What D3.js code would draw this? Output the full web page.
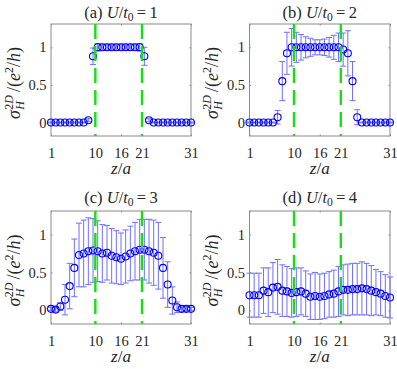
<!DOCTYPE html>
<html>
<head>
<meta charset="utf-8">
<script src="https://cdn.jsdelivr.net/npm/d3@7"></script>
<style>
body { margin: 0; background: #fff; }
text { font-family: "Liberation Serif", "Times New Roman", serif; fill: #262626; }
</style>
</head>
<body>
<div id="chart"></div>
<script>
// layer index along z
var layers = [1,2,3,4,5,6,7,8,9,10,11,12,13,14,15,16,17,18,19,20,21,22,23,24,25,26,27,28,29,30,31];

// (a) U/t0 = 1
var sigmaA = [0,0,0,0,0,0,0,0,0.03,0.88,1,1,1,1,1,1,1,1,1,1,0.88,0.03,0,0,0,0,0,0,0,0,0];
var errA   = [0.005,0.005,0.005,0.005,0.005,0.005,0.005,0.005,0.02,0.11,0.05,0.04,0.04,0.04,0.04,0.04,0.04,0.04,0.04,0.05,0.12,0.02,0.005,0.005,0.005,0.005,0.005,0.005,0.005,0.005,0.005];

// (b) U/t0 = 2
var sigmaB = [0,0,0,0,0,0,0.07,0.55,0.92,1.0,1.0,1.0,1.0,1.0,1.0,1.0,1.0,1.0,1.0,1.0,0.97,0.92,0.55,0.07,0,0,0,0,0,0,0];
var errB   = [0.005,0.005,0.005,0.005,0.005,0.005,0.09,0.26,0.28,0.25,0.2,0.17,0.14,0.12,0.1,0.1,0.11,0.13,0.16,0.19,0.22,0.3,0.26,0.1,0.005,0.005,0.005,0.005,0.005,0.005,0.005];

// (c) U/t0 = 3
var sigmaC = [0.02,0.01,0.05,0.14,0.32,0.56,0.73,0.75,0.78,0.79,0.78,0.75,0.76,0.72,0.70,0.68,0.71,0.75,0.78,0.80,0.80,0.78,0.76,0.72,0.56,0.34,0.13,0.04,0.02,0.02,0.02];
var errC   = [0.02,0.03,0.05,0.2,0.3,0.38,0.42,0.44,0.44,0.42,0.4,0.38,0.36,0.36,0.35,0.34,0.35,0.36,0.38,0.4,0.4,0.42,0.43,0.44,0.4,0.3,0.18,0.07,0.04,0.03,0.02];

// (d) U/t0 = 4
var sigmaD = [0.20,0.20,0.20,0.26,0.24,0.30,0.31,0.26,0.25,0.23,0.24,0.25,0.22,0.18,0.19,0.18,0.19,0.21,0.22,0.25,0.27,0.27,0.28,0.28,0.29,0.28,0.26,0.24,0.22,0.19,0.17];
var errD   = [0.29,0.29,0.29,0.3,0.32,0.33,0.36,0.34,0.33,0.32,0.32,0.31,0.3,0.3,0.31,0.3,0.3,0.3,0.31,0.33,0.33,0.34,0.34,0.34,0.35,0.34,0.33,0.3,0.29,0.28,0.27];

var xTickVals = [1, 10.5, 16, 20.5, 31];
var xTickText = ["1", "10", "16", "21", "31"];
var yTickVals = [0, 0.5, 1];
var yTickText = ["0", "0.5", "1"];
var boundaries = [10.5, 20.5];
var panelLetters = ["a", "b", "c", "d"];
var uValues = [1, 2, 3, 4];

var seriesVals = [sigmaA, sigmaB, sigmaC, sigmaD];
var seriesErrs = [errA, errB, errC, errD];

// layout of the four axes boxes
var frames = [
    { left: 51,    right: 191, top: 24,  bottom: 136, titleY: 18 },
    { left: 249.5, right: 390, top: 24,  bottom: 136, titleY: 18 },
    { left: 51,    right: 191, top: 211, bottom: 324, titleY: 203 },
    { left: 249.5, right: 390, top: 211, bottom: 324, titleY: 203 }
];

var svg = d3.select("#chart").append("svg")
    .attr("width", 397)
    .attr("height", 369);

function textW(str, size, style) {
    var t = svg.append("text").attr("font-size", size).style("font-style", style).text(str);
    var w = t.node().getComputedTextLength();
    t.remove();
    return w;
}

var boxColor = "#8a8a8a";
var markerColor = "#0000ff";
var barColor = "#6f6fff";
var green = "#14e014";

frames.forEach(function (f, p) {
    var vals = seriesVals[p], errs = seriesErrs[p];
    var x = d3.scaleLinear().domain([1, 31]).range([f.left, f.right]);
    var y = d3.scaleLinear().domain([-0.18, 1.31]).range([f.bottom, f.top]);
    var g = svg.append("g");

    // axes with inward ticks
    var bottomAxis = g.append("g")
        .attr("transform", "translate(0," + f.bottom + ")")
        .call(d3.axisBottom(x).tickValues(xTickVals)
            .tickFormat(function (d, i) { return xTickText[i]; })
            .tickSizeInner(-1.5).tickSizeOuter(0).tickPadding(11.5));
    g.append("g")
        .attr("transform", "translate(0," + f.top + ")")
        .call(d3.axisTop(x).tickValues(xTickVals).tickFormat("")
            .tickSizeInner(-1.5).tickSizeOuter(0));
    var leftAxis = g.append("g")
        .attr("transform", "translate(" + f.left + ",0)")
        .call(d3.axisLeft(y).tickValues(yTickVals)
            .tickFormat(function (d, i) { return yTickText[i]; })
            .tickSizeInner(-1.5).tickSizeOuter(0).tickPadding(4.5));
    g.append("g")
        .attr("transform", "translate(" + f.right + ",0)")
        .call(d3.axisRight(y).tickValues(yTickVals).tickFormat("")
            .tickSizeInner(-1.5).tickSizeOuter(0));

    g.selectAll(".domain").remove();
    g.selectAll(".tick line").attr("stroke", boxColor);
    [bottomAxis, leftAxis].forEach(function (a) {
        a.attr("font-family", null).attr("font-size", 14.5);
        a.selectAll("text").attr("fill", "#262626").style("font-size", "14.5px");
    });

    g.append("rect")
        .attr("x", f.left).attr("y", f.top)
        .attr("width", f.right - f.left).attr("height", f.bottom - f.top)
        .attr("fill", "none").attr("stroke", boxColor).attr("stroke-width", 1);

    // error bars
    var bars = g.append("g").attr("stroke", barColor).attr("stroke-width", 1);
    layers.forEach(function (z, i) {
        var cx = x(z), y0 = y(vals[i] - errs[i]), y1 = y(vals[i] + errs[i]);
        bars.append("line").attr("x1", cx).attr("x2", cx).attr("y1", y0).attr("y2", y1);
        bars.append("line").attr("x1", cx - 3).attr("x2", cx + 3).attr("y1", y0).attr("y2", y0);
        bars.append("line").attr("x1", cx - 3).attr("x2", cx + 3).attr("y1", y1).attr("y2", y1);
    });

    // markers
    g.append("g").selectAll("circle")
        .data(layers)
        .join("circle")
        .attr("cx", function (d) { return x(d); })
        .attr("cy", function (d, i) { return y(vals[i]); })
        .attr("r", 3.5)
        .attr("fill", "none")
        .attr("stroke", markerColor)
        .attr("stroke-width", 1.1);

    // layer boundaries
    g.append("g").selectAll("line")
        .data(boundaries)
        .join("line")
        .attr("x1", function (d) { return x(d); })
        .attr("x2", function (d) { return x(d); })
        .attr("y1", f.top)
        .attr("y2", f.bottom)
        .attr("stroke", green)
        .attr("stroke-width", 2.4)
        .attr("stroke-dasharray", "15,7");

    // title
    var cx = (f.left + f.right) / 2;
    var title = g.append("text")
        .attr("x", cx).attr("y", f.titleY)
        .attr("text-anchor", "middle")
        .attr("font-size", 16.5);
    title.append("tspan").text("(" + panelLetters[p] + ") ");
    title.append("tspan").style("font-style", "italic").text("U");
    title.append("tspan").text("/");
    title.append("tspan").style("font-style", "italic").text("t");
    title.append("tspan").attr("font-size", 11.5).attr("dy", 3).text("0");
    title.append("tspan").attr("dy", -3).text("\u2009=\u2009" + uValues[p]);

    // x label
    var xl = g.append("text")
        .attr("x", cx).attr("y", f.bottom + 38)
        .attr("text-anchor", "middle")
        .attr("font-size", 17);
    xl.append("tspan").style("font-style", "italic").text("z");
    xl.append("tspan").text("/");
    xl.append("tspan").style("font-style", "italic").text("a");

    // y label, rotated
    var w2D = textW("2D", 12, "normal");
    var wH = textW("H", 12, "italic");
    var yl = g.append("text")
        .attr("transform", "translate(" + (f.left - 31.5) + "," + ((f.top + f.bottom) / 2 + 3) + ") rotate(-90)")
        .attr("text-anchor", "middle")
        .attr("font-size", 18);
    yl.append("tspan").style("font-style", "italic").text("\u03c3");
    yl.append("tspan").attr("font-size", 12).attr("dy", -7).attr("dx", 0.5).text("2");
    yl.append("tspan").attr("font-size", 12).style("font-style", "italic").text("D");
    yl.append("tspan").attr("font-size", 12).style("font-style", "italic")
        .attr("dx", -w2D).attr("dy", 11).text("H");
    yl.append("tspan").attr("dx", (w2D - wH) + 3).attr("dy", -4).text("/(");
    yl.append("tspan").style("font-style", "italic").text("e");
    yl.append("tspan").attr("font-size", 12).attr("dy", -7).text("2");
    yl.append("tspan").attr("dy", 7).text("/");
    yl.append("tspan").style("font-style", "italic").text("h");
    yl.append("tspan").text(")");
});
</script>
</body>
</html>
